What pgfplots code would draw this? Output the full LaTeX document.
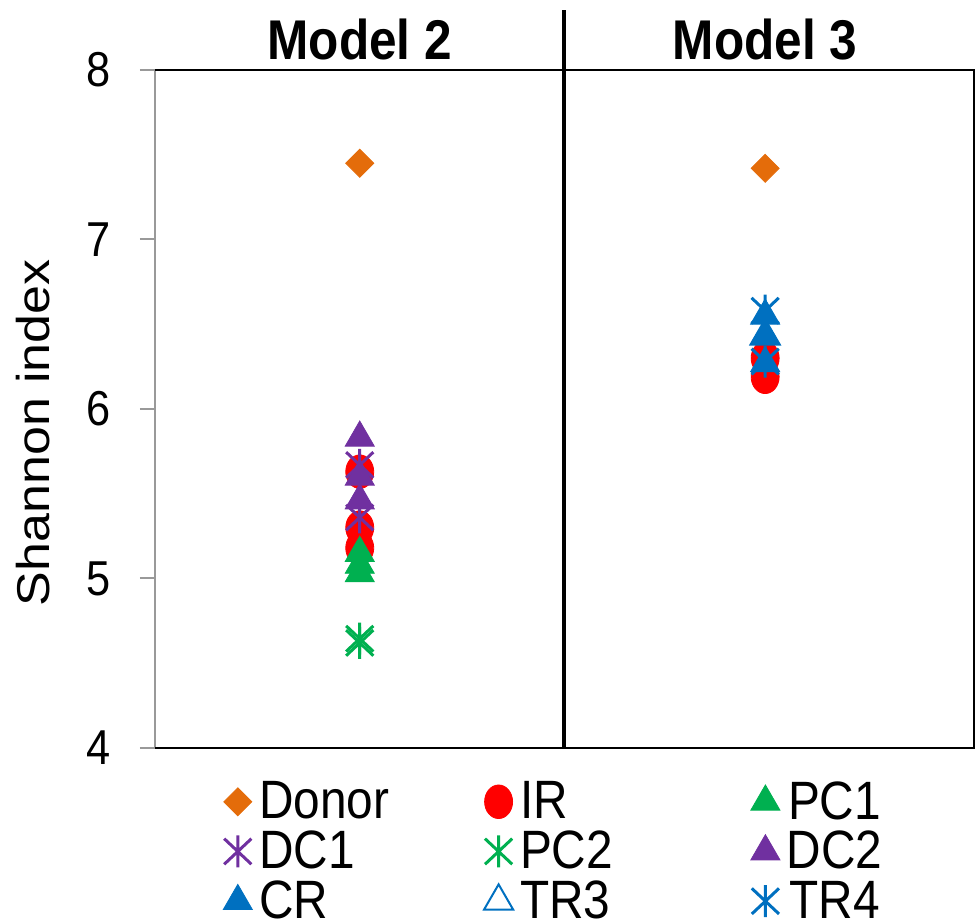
\documentclass[border=0pt]{standalone}
\usepackage{fontspec}
\setmainfont{Liberation Sans}[FakeStretch=0.885]
\newfontfamily\ylabfont{Liberation Sans}[FakeStretch=1.13]
\usepackage{pgfplots}
\pgfplotsset{compat=1.18}
\definecolor{cDonor}{HTML}{E46C0A}
\definecolor{cRed}{HTML}{FF0000}
\definecolor{cGreen}{HTML}{00B050}
\definecolor{cPurple}{HTML}{7030A0}
\definecolor{cBlue}{HTML}{0070C0}
\pgfdeclareplotmark{xstar}{%
 \pgfpathmoveto{\pgfqpoint{0pt}{\pgfplotmarksize}}%
 \pgfpathlineto{\pgfqpoint{0pt}{-\pgfplotmarksize}}%
 \pgfpathmoveto{\pgfqpoint{-0.85\pgfplotmarksize}{0.8\pgfplotmarksize}}%
 \pgfpathlineto{\pgfqpoint{0.85\pgfplotmarksize}{-0.8\pgfplotmarksize}}%
 \pgfpathmoveto{\pgfqpoint{-0.85\pgfplotmarksize}{-0.8\pgfplotmarksize}}%
 \pgfpathlineto{\pgfqpoint{0.85\pgfplotmarksize}{0.8\pgfplotmarksize}}%
 \pgfusepathqstroke}
\begin{document}
\begin{tikzpicture}
\begin{axis}[
 scale only axis, width=409.5pt, height=339pt,
 at={(0,0)}, anchor=south west,
 xmin=0, xmax=2, ymin=4, ymax=8,
 xtick=\empty, ytick={4,5,6,7,8},
 axis line style={draw=none},
 ytick pos=left, tick align=outside,
 major tick length=7.5pt,
 y tick style={color=gray!80, line width=1pt},
 yticklabel style={font=\fontsize{24.5}{29}\selectfont, inner sep=0pt, xshift=-14.5pt},
 /pgf/number format/assume math mode=true,
 clip=false,
 legend columns=3,
 legend style={draw=none, fill=none, inner sep=0pt, column sep=0pt, row sep=4.5pt,
   nodes={inner sep=0pt}, font=\fontsize{27}{32}\selectfont,
   at={(axis description cs:0.0806,-0.0487)}, anchor=north west},
 legend image code/.code={\path (0pt,-9.5pt) (16pt,9.5pt); \draw[#1,/tikz/only marks] plot coordinates {(8pt,0pt)};},
]
% Donor
\addplot[only marks, color=cDonor, mark=square*, mark size=4.95pt, mark options={rotate=45, fill=cDonor, draw=cDonor}]
 coordinates {(0.5,7.45) (1.49,7.42)};
% IR
\addplot[only marks, color=cRed, mark=*, mark size=7pt, mark options={yscale=1.2, fill=cRed, draw=cRed}]
 coordinates {(0.5,5.63) (0.5,5.30) (0.5,5.18) (1.49,6.30) (1.49,6.19)};
% PC1
\addplot[only marks, color=cGreen, mark=triangle*, mark size=8.4pt, mark options={fill=cGreen, draw=cGreen}]
 coordinates {(0.5,5.15) (0.5,5.08) (0.5,5.03)};
% DC1
\addplot[only marks, color=cPurple, mark=xstar, mark size=8pt, mark options={line width=1.5pt, draw=cPurple}]
 coordinates {(0.5,5.67) (0.5,5.36)};
% PC2
\addplot[only marks, color=cGreen, mark=xstar, mark size=8pt, mark options={line width=1.5pt, draw=cGreen}]
 coordinates {(0.5,4.62) (0.5,4.645)};
% DC2
\addplot[only marks, color=cPurple, mark=triangle*, mark size=8.4pt, mark options={fill=cPurple, draw=cPurple}]
 coordinates {(0.5,5.83) (0.5,5.60) (0.5,5.46)};
% CR
\addplot[only marks, color=cBlue, mark=triangle*, mark size=8.4pt, mark options={fill=cBlue, draw=cBlue}]
 coordinates {(1.49,6.55) (1.49,6.43) (1.49,6.27)};
% TR3
\addplot[only marks, color=cBlue, mark=triangle, mark size=8.4pt, mark options={fill=none, draw=cBlue, line width=1pt}]
 coordinates {(1.49,6.43)};
% TR4
\addplot[only marks, color=cBlue, mark=xstar, mark size=8pt, mark options={line width=1.5pt, draw=cBlue}]
 coordinates {(1.49,6.58) (1.49,6.28)};
\legend{\makebox[114pt][l]{\hspace{2.5pt}Donor}, \makebox[117pt][l]{\hspace{2.5pt}IR}, \hspace{2.5pt}PC1,
 \makebox[114pt][l]{\hspace{2.5pt}DC1}, \makebox[117pt][l]{\hspace{2.5pt}PC2}, \hspace{2.5pt}DC2,
 \makebox[114pt][l]{\hspace{2.5pt}CR}, \makebox[117pt][l]{\hspace{2.5pt}TR3}, \hspace{2.5pt}TR4}
% frame
\draw[gray!80, line width=1pt] (rel axis cs:0,0) -- (rel axis cs:0,1);
\draw[black, line width=1pt] (rel axis cs:0,0) -- (rel axis cs:1,0) -- (rel axis cs:1,1) -- (rel axis cs:0,1);
\draw[black, line width=2pt] (axis cs:1,4) -- (axis cs:1,8.354);
% titles
\node[anchor=base, font=\fontsize{28}{33}\selectfont\bfseries] at (axis cs:0.5,8.059) {Model 2};
\node[anchor=base, font=\fontsize{28}{33}\selectfont\bfseries] at (axis cs:1.49,8.059) {Model 3};
% y label
\node[rotate=90, anchor=center, font=\fontsize{23}{28}\ylabfont] at (axis cs:-0.298,5.86) {Shannon index};
\end{axis}
\pgfresetboundingbox
\path[use as bounding box] (-77.5pt,-88pt) rectangle (410.5pt,374pt);
\end{tikzpicture}
\end{document}
